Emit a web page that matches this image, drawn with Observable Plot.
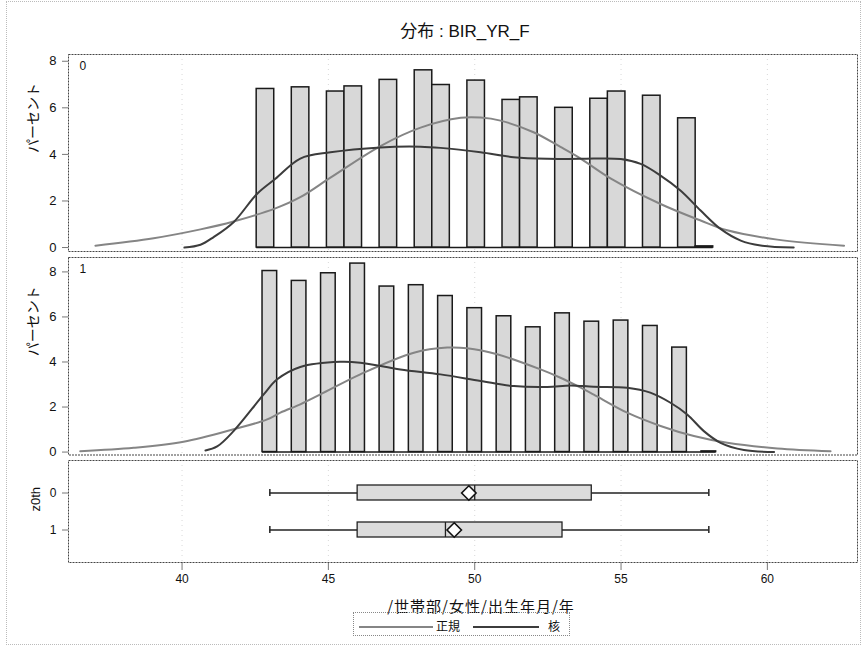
<!DOCTYPE html>
<html><head><meta charset="utf-8">
<script src="https://cdn.jsdelivr.net/npm/d3@7"></script>
<script src="https://cdn.jsdelivr.net/npm/@observablehq/plot@0.6"></script>
<style>
html,body{margin:0;padding:0;background:#fff;}
#fig{position:relative;width:863px;height:647px;overflow:hidden;font-family:"Liberation Sans","Noto Sans CJK JP",sans-serif;color:#111;background:#fff;}
#border{position:absolute;left:6px;top:1px;width:853px;height:642px;border:1px dotted #bbb;}
#title{position:absolute;left:0;width:930px;top:22px;line-height:20px;text-align:center;font-size:17px;}
#xlabel{position:absolute;left:0;width:962px;top:597px;line-height:17px;text-align:center;font-size:15px;font-family:"Noto Sans CJK JP",sans-serif;letter-spacing:1px;}
#legend{position:absolute;left:353px;top:612px;width:215px;height:22px;border:1px dotted #888;font-size:12px;font-family:"Noto Sans CJK JP",sans-serif;}
#legend .ln{position:absolute;top:13px;height:0;border-top:2px solid #666;}
#legend .tx{position:absolute;top:5px;line-height:16px;}
</style>
</head><body>
<div id="fig">
  <div id="border"></div>
  <div id="title">分布 : BIR_YR_F</div>
  <div id="xlabel">/世帯部/女性/出生年月/年</div>
  <div id="legend"></div>
</div>
<script>
// ---------- data ----------
const xTicks = [40, 45, 50, 55, 60];
const yTicks = [0, 2, 4, 6, 8];
const panelLabels = ["0", "1"];

// panel 0 histogram (bin width 0.6)
const binWidth0 = 0.6;
const binCenters0 = [42.85, 44.05, 45.25, 45.85, 47.05, 48.25, 48.85, 50.05, 51.25, 51.85, 53.05, 54.25, 54.85, 56.05, 57.25, 57.85];
const pct0 = [6.81, 6.88, 6.70, 6.92, 7.20, 7.61, 6.98, 7.17, 6.34, 6.45, 6.00, 6.39, 6.70, 6.52, 5.55, 0.05];

// panel 1 histogram (bin width 0.5)
const binWidth1 = 0.5;
const binCenters1 = [43, 44, 45, 46, 47, 48, 49, 50, 51, 52, 53, 54, 55, 56, 57, 58];
const pct1 = [8.04, 7.60, 7.94, 8.37, 7.35, 7.41, 6.93, 6.39, 6.03, 5.54, 6.16, 5.79, 5.84, 5.60, 4.64, 0.03];

// normal (正規) and kernel (核) curves
const normal0X = [37.04, 39.03, 40.63, 41.76, 43.19, 44.04, 45.07, 46.78, 48.15, 49.52, 50.20, 50.88, 52.01, 52.93, 53.62, 54.64, 56.35, 57.72, 58.63, 60.34, 62.62];
const normal0Y = [0.08, 0.40, 0.78, 1.12, 1.68, 2.16, 3.00, 4.36, 5.15, 5.57, 5.58, 5.45, 4.95, 4.32, 3.82, 2.97, 1.87, 1.16, 0.74, 0.34, 0.08];
const kernel0X = [40.08, 40.63, 41.08, 41.76, 42.56, 43.19, 44.04, 45.07, 46.78, 48.15, 48.83, 50.20, 51.33, 52.49, 53.62, 54.99, 55.67, 56.35, 57.03, 57.72, 58.40, 59.09, 59.77, 60.90];
const kernel0Y = [0.00, 0.12, 0.45, 1.09, 2.30, 2.95, 3.82, 4.09, 4.30, 4.33, 4.28, 4.09, 3.88, 3.81, 3.81, 3.80, 3.59, 3.09, 2.45, 1.59, 0.80, 0.30, 0.09, 0.00];

const normal1X = [36.52, 38.35, 40.05, 41.76, 42.91, 43.36, 44.04, 44.73, 46.09, 47.92, 49.06, 49.74, 50.77, 52.25, 52.93, 53.62, 54.07, 55.21, 56.35, 57.49, 58.63, 60.34, 62.16];
const normal1Y = [0.04, 0.19, 0.46, 1.01, 1.45, 1.75, 2.12, 2.56, 3.45, 4.41, 4.64, 4.61, 4.34, 3.67, 3.30, 2.86, 2.55, 1.75, 1.16, 0.71, 0.41, 0.16, 0.04];
const kernel1X = [40.80, 41.20, 41.76, 42.79, 43.25, 44.04, 45.41, 46.09, 47.46, 48.83, 50.20, 51.34, 52.48, 53.28, 54.06, 55.21, 56.00, 56.69, 57.26, 57.83, 58.40, 59.20, 60.23];
const kernel1Y = [0.07, 0.25, 0.93, 2.56, 3.23, 3.78, 4.01, 3.97, 3.67, 3.45, 3.16, 2.93, 2.89, 2.96, 2.90, 2.86, 2.64, 2.19, 1.67, 0.93, 0.41, 0.09, 0.00];

// box plot per z0th group
const boxGroups = ["0", "1"];
const boxMin = [43, 43];
const boxQ1 = [46, 46];
const boxMedian = [50, 49];
const boxQ3 = [54, 53];
const boxMax = [58, 58];
const boxMean = [49.8, 49.3];

// ---------- build ----------
const fig = document.getElementById("fig");
const W = 863, ML = 68, MR = 6;
const X_DOMAIN = [36.12, 63.08];
const FONT = '"Liberation Sans", "Noto Sans CJK JP", sans-serif';
const NORMAL_COLOR = "#858585", KERNEL_COLOR = "#3c3c3c";
const GRID = {stroke: "#c8c8c8", strokeOpacity: 0.7, strokeDasharray: "1,4"};
const style = {fontFamily: FONT, fontSize: "12px", color: "#111", background: "transparent", overflow: "visible"};

function place(el, top) {
  el.style.position = "absolute";
  el.style.left = "0px";
  el.style.top = top + "px";
  fig.appendChild(el);
}

function pts(xs, ys) { return xs.map((x, i) => ({x, y: ys[i]})); }

function histPanel(centers, width, pct, nX, nY, kX, kY, label, yDomain, top, height) {
  const bins = centers.map((c, i) => ({x1: c - width / 2, x2: c + width / 2, pct: pct[i]}));
  const base = [{x1: d3.min(bins, d => d.x1), x2: d3.max(bins, d => d.x2)}];
  return place(Plot.plot({
    width: W, height, marginLeft: ML, marginRight: MR, marginTop: 4, marginBottom: 4,
    style,
    x: {domain: X_DOMAIN, axis: null},
    y: {domain: yDomain, axis: null},
    marks: [
      Plot.gridX(xTicks, GRID),
      Plot.ruleY(base, {y: d => 0, x1: "x1", x2: "x2", stroke: "#1a1a1a", strokeWidth: 1.5}),
      Plot.rect(bins, {x1: "x1", x2: "x2", y1: d => 0, y2: "pct", fill: "#d8d8d8", stroke: "#1a1a1a", strokeWidth: 1.5}),
      Plot.line(pts(nX, nY), {x: "x", y: "y", curve: "catmull-rom", stroke: NORMAL_COLOR, strokeWidth: 2}),
      Plot.line(pts(kX, kY), {x: "x", y: "y", curve: "catmull-rom", stroke: KERNEL_COLOR, strokeWidth: 2}),
      Plot.axisY(yTicks, {tickSize: 6, tickPadding: 6, stroke: "#777", fontSize: 13, label: null}),
      Plot.frame({stroke: "#444", strokeDasharray: "2,1"}),
      Plot.text([label], {frameAnchor: "top-left", dx: 11, dy: 7, fontSize: 12}),
      Plot.text(["パーセント"], {frameAnchor: "left", dx: -35, rotate: -90, fontSize: 14, fontFamily: "Noto Sans CJK JP"})
    ]
  }), top);
}

histPanel(binCenters0, binWidth0, pct0, normal0X, normal0Y, kernel0X, kernel0Y, panelLabels[0], [-0.17, 8.29], 50, 205);
histPanel(binCenters1, binWidth1, pct1, normal1X, normal1Y, kernel1X, kernel1Y, panelLabels[1], [-0.13, 8.64], 252.5, 205.5);

const boxData = boxGroups.map((g, i) => ({g, min: boxMin[i], q1: boxQ1[i], median: boxMedian[i], q3: boxQ3[i], max: boxMax[i], mean: boxMean[i]}));
place(Plot.plot({
  width: W, height: 136, marginLeft: ML, marginRight: MR, marginTop: 4, marginBottom: 30,
  style,
  x: {domain: X_DOMAIN, axis: null},
  y: {type: "band", domain: boxGroups, paddingInner: 0.59, paddingOuter: 0.64, axis: null},
  marks: [
    Plot.gridX(xTicks, GRID),
    Plot.ruleY(boxData, {y: "g", x1: "min", x2: "q1", stroke: "#222", strokeWidth: 1.5}),
    Plot.ruleY(boxData, {y: "g", x1: "q3", x2: "max", stroke: "#222", strokeWidth: 1.5}),
    Plot.tickX(boxData, {y: "g", x: "min", insetTop: 4, insetBottom: 4, stroke: "#222", strokeWidth: 1.5}),
    Plot.tickX(boxData, {y: "g", x: "max", insetTop: 4, insetBottom: 4, stroke: "#222", strokeWidth: 1.5}),
    Plot.barX(boxData, {y: "g", x1: "q1", x2: "q3", fill: "#dcdcdc", stroke: "#222", strokeWidth: 1.3}),
    Plot.tickX(boxData, {y: "g", x: "median", stroke: "#222", strokeWidth: 1.3}),
    Plot.dot(boxData, {y: "g", x: "mean", symbol: "diamond2", r: 6.5, fill: "white", stroke: "#111", strokeWidth: 1.6}),
    Plot.axisY(boxGroups, {tickSize: 6, tickPadding: 6, stroke: "#777", fontSize: 12, label: null}),
    Plot.axisX(xTicks, {tickSize: 8, tickPadding: 4, stroke: "#777", fontSize: 12, label: null}),
    Plot.frame({stroke: "#444", strokeDasharray: "2,1"}),
    Plot.text(["z0th"], {frameAnchor: "left", dx: -33, rotate: -90, fontSize: 13})
  ]
}), 456);

// legend (正規 = normal, 核 = kernel)
const legendItems = [
  {name: "正規", color: NORMAL_COLOR, lineLeft: 5, lineWidth: 74, textLeft: 82},
  {name: "核", color: KERNEL_COLOR, lineLeft: 119, lineWidth: 66, textLeft: 194}
];
const lg = document.getElementById("legend");
for (const it of legendItems) {
  const ln = document.createElement("div");
  ln.className = "ln";
  ln.style.left = it.lineLeft + "px";
  ln.style.width = it.lineWidth + "px";
  ln.style.borderTopColor = it.color;
  lg.appendChild(ln);
  const tx = document.createElement("div");
  tx.className = "tx";
  tx.style.left = it.textLeft + "px";
  tx.textContent = it.name;
  lg.appendChild(tx);
}
</script>
</body></html>
